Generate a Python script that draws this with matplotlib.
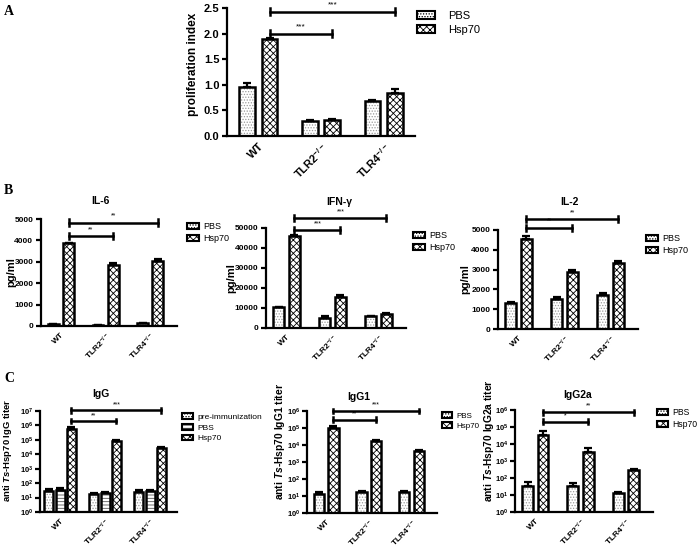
import numpy as np
import matplotlib
matplotlib.use("Agg")
import matplotlib.pyplot as plt
from matplotlib.patches import Patch
from matplotlib.ticker import LogLocator, NullLocator

W, H = 697, 549
plt.rcParams['font.family'] = ['Liberation Sans', 'DejaVu Sans']
plt.rcParams['font.weight'] = 'bold'
plt.rcParams['mathtext.fontset'] = 'custom'
plt.rcParams['mathtext.rm'] = 'Liberation Sans:bold'
plt.rcParams['mathtext.it'] = 'Liberation Sans:italic:bold'
plt.rcParams['mathtext.bf'] = 'Liberation Sans:bold'
plt.rcParams['hatch.linewidth'] = 0.6

groups = ['WT', r'TLR2$^{-/-}$', r'TLR4$^{-/-}$']

# A - proliferation
prolif_pbs = [0.95, 0.29, 0.69]
prolif_pbs_err = [0.08, 0.02, 0.01]
prolif_hsp = [1.89, 0.31, 0.84]
prolif_hsp_err = [0.03, 0.03, 0.08]

# B - cytokines (pg/ml)
il6_pbs = [90, 40, 120]
il6_pbs_err = [20, 10, 30]
il6_hsp = [3860, 2840, 3060]
il6_hsp_err = [40, 120, 60]

ifn_pbs = [10400, 5200, 5900]
ifn_pbs_err = [200, 800, 300]
ifn_hsp = [46000, 15500, 7100]
ifn_hsp_err = [300, 1200, 300]

il2_pbs = [1300, 1540, 1720]
il2_pbs_err = [80, 80, 80]
il2_hsp = [4530, 2880, 3350]
il2_hsp_err = [150, 100, 60]

# C - antibody titers
igg_pre = [30, 18, 25]
igg_pre_err = [12, 3, 6]
igg_pbs = [34, 20, 30]
igg_pbs_err = [14, 3, 6]
igg_hsp = [5.5e5, 7.8e4, 2.9e4]
igg_hsp_err = [2.5e5, 1.5e4, 5e3]

igg1_pbs = [14, 17, 17]
igg1_pbs_err = [3, 3, 3]
igg1_hsp = [1.05e5, 1.7e4, 4.4e3]
igg1_hsp_err = [2.5e4, 3e3, 1e3]

igg2a_pbs = [35, 32, 13]
igg2a_pbs_err = [25, 20, 3]
igg2a_hsp = [3.3e4, 3.2e3, 290]
igg2a_hsp_err = [2.5e4, 2.5e3, 60]

STYLES = {
    'pre': dict(hatch='......', hcol='#9a9a9a'),
    'pbs': dict(hatch='......', hcol='#9a9a9a'),
    'pbs_stripe': dict(hatch='-----', hcol='#555555'),
    'hsp': dict(hatch='xxxxx', hcol='black'),
}

fig = plt.figure(figsize=(W / 100, H / 100), dpi=100)


def ax_at(x0, y0, x1, y1):
    return fig.add_axes([x0 / W, 1 - y1 / H, (x1 - x0) / W, (y1 - y0) / H])


def draw_bars(ax, xs, vals, errs, style, width):
    st = STYLES[style]
    ax.bar(xs, vals, width, color='white', edgecolor=st['hcol'], hatch=st['hatch'],
           linewidth=0, zorder=2)
    ax.bar(xs, vals, width, color='none', edgecolor='black', linewidth=1.8, zorder=3)
    ax.errorbar(xs, vals, yerr=[np.zeros(len(vals)), errs], fmt='none', ecolor='black',
                elinewidth=1.6, capsize=3.2, capthick=1.6, zorder=4)


def bracket(ax, x0, x1, y, text, lo, hi, fs=5):
    ax.plot([x0, x1], [y, y], color='black', lw=1.8, clip_on=False, zorder=5)
    for xx in (x0, x1):
        ax.plot([xx, xx], [lo, hi], color='black', lw=1.8, clip_on=False, zorder=5)
    ax.text((x0 + x1) / 2, hi, text, ha='center', va='bottom', fontsize=fs,
            fontweight='normal', clip_on=False)


def style_axes(ax, fs, xfs, ypad=2):
    for s in ('top', 'right'):
        ax.spines[s].set_visible(False)
    for s in ('left', 'bottom'):
        ax.spines[s].set_linewidth(1.6)
    ax.tick_params(width=1.6, length=3.5, labelsize=fs, pad=ypad)
    ax.set_xticks(range(3))
    ax.set_xticklabels(groups, rotation=45, ha='right', rotation_mode='anchor',
                       fontsize=xfs, fontweight='bold')
    ax.tick_params(axis='x', length=0, pad=4)


def add_legend(x, y, labels, styles, fs, tpad=0.5, hlen=1.3):
    handles = [Patch(facecolor='white', edgecolor='black', hatch=STYLES[s]['hatch'], lw=1.5)
               for s in styles]
    fig.legend(handles, labels, loc='upper left', bbox_to_anchor=(x / W, 1 - y / H),
               frameon=False, borderpad=0, borderaxespad=0, handlelength=hlen,
               handleheight=0.7, handletextpad=tpad, labelspacing=0.35,
               prop=dict(size=fs, weight='normal'))


def title_at(x, y, text):
    fig.text(x / W, 1 - y / H, text, ha='center', va='center', fontsize=7.5,
             fontweight='bold')


def ylabel_at(ax, text, fs, xfig, yax, box):
    ax.set_ylabel(text, fontsize=fs, fontweight='bold')
    ax.yaxis.set_label_coords((xfig - box[0]) / (box[2] - box[0]), yax)


xs = np.arange(3)

# ---------- A ----------
boxA = (227, 8, 415, 136)
ax = ax_at(*boxA)
draw_bars(ax, xs - 0.18, prolif_pbs, prolif_pbs_err, 'pbs', 0.25)
draw_bars(ax, xs + 0.18, prolif_hsp, prolif_hsp_err, 'hsp', 0.25)
ax.set_xlim(-0.5, 2.5)
ax.set_ylim(0, 2.5)
ax.set_yticks([0, 0.5, 1.0, 1.5, 2.0, 2.5])
ax.set_yticklabels(['0.0', '0.5', '1.0', '1.5', '2.0', '2.5'])
style_axes(ax, 8, 8)
ylabel_at(ax, 'proliferation index', 8.5, 199, 0.56, boxA)
bracket(ax, 0.18, 1.18, 2.0, '***', 1.93, 2.07, fs=6)
bracket(ax, 0.18, 2.18, 2.43, '***', 2.36, 2.50, fs=6)
add_legend(417, 11, ['PBS', 'Hsp70'], ['pbs', 'hsp'], 8, tpad=1.2, hlen=1.6)

# ---------- B ----------
cyto = [
    ('IL-6', (41, 219, 177, 326), 5000, il6_pbs, il6_pbs_err, il6_hsp, il6_hsp_err,
     [4200, 4830], ['**', '**'], (187, 222), (100, 201), 16),
    (u'IFN-\u03b3', (266, 228, 406, 328), 50000, ifn_pbs, ifn_pbs_err, ifn_hsp, ifn_hsp_err,
     [48800, 55000], ['***', '***'], (413, 231), (339, 202), 236),
    ('IL-2', (498, 230, 638, 329), 5000, il2_pbs, il2_pbs_err, il2_hsp, il2_hsp_err,
     [5120, 5540], ['**', '**'], (646, 234), (569, 202), 470),
]
for title, box, top, pbs, pbs_e, hsp, hsp_e, by, bt, leg, tpos, ylx in cyto:
    ax = ax_at(*box)
    draw_bars(ax, xs - 0.17, pbs, pbs_e, 'pbs', 0.24)
    draw_bars(ax, xs + 0.17, hsp, hsp_e, 'hsp', 0.24)
    ax.set_xlim(-0.45, 2.6)
    ax.set_ylim(0, top)
    ax.set_yticks(np.linspace(0, top, 6))
    style_axes(ax, 6, 6)
    ylabel_at(ax, 'pg/ml', 8, ylx, 0.5, box)
    title_at(tpos[0], tpos[1], title)
    d = top * 0.03
    bracket(ax, 0.17, 1.17, by[0], bt[0], by[0] - d, by[0] + d)
    bracket(ax, 0.17, 2.17, by[1], bt[1], by[1] - d, by[1] + d)
    add_legend(leg[0], leg[1], ['PBS', 'Hsp70'], ['pbs', 'hsp'], 6.5)

# ---------- C ----------
boxG = (40, 411, 177, 512)
ax = ax_at(*boxG)
draw_bars(ax, xs - 0.25, igg_pre, igg_pre_err, 'pre', 0.2)
draw_bars(ax, xs, igg_pbs, igg_pbs_err, 'pbs_stripe', 0.2)
draw_bars(ax, xs + 0.25, igg_hsp, igg_hsp_err, 'hsp', 0.2)
ax.set_yscale('log')
ax.set_ylim(1, 1e7)
ax.set_xlim(-0.45, 2.6)
ax.yaxis.set_major_locator(LogLocator(base=10, numticks=10))
ax.yaxis.set_minor_locator(NullLocator())
style_axes(ax, 5.5, 6, ypad=1)
ylabel_at(ax, r'anti $\mathit{Ts}$-Hsp70 IgG titer', 6.8, 14, 0.61, boxG)
title_at(101, 394, 'IgG')
bracket(ax, 0.25, 1.25, 2e6, '**', 2e6 / 1.4, 2e6 * 1.4)
bracket(ax, 0.25, 2.25, 1.1e7, '***', 1.1e7 / 1.4, 1.1e7 * 1.4)
add_legend(182, 413, ['pre-immunization', 'PBS', 'Hsp70'], ['pre', 'pbs_stripe', 'hsp'], 6)

titers = [
    ('IgG1', (307, 411, 437, 513), igg1_pbs, igg1_pbs_err, igg1_hsp, igg1_hsp_err,
     [3e5, 1e6], ['**', '***'], (442, 412), (359, 397), 287, 5.8),
    ('IgG2a', (515, 410, 653, 512), igg2a_pbs, igg2a_pbs_err, igg2a_hsp, igg2a_hsp_err,
     [2e5, 7.4e5], ['*', '**'], (657, 408), (578, 395), 496, 6.2),
]
for title, box, pbs, pbs_e, hsp, hsp_e, by, bt, leg, tpos, ylx, lfs in titers:
    ax = ax_at(*box)
    draw_bars(ax, xs - 0.17, pbs, pbs_e, 'pbs', 0.24)
    draw_bars(ax, xs + 0.17, hsp, hsp_e, 'hsp', 0.24)
    ax.set_yscale('log')
    ax.set_ylim(1, 1e6)
    ax.set_xlim(-0.45, 2.6)
    ax.yaxis.set_major_locator(LogLocator(base=10, numticks=10))
    ax.yaxis.set_minor_locator(NullLocator())
    style_axes(ax, 5.5, 6, ypad=1)
    ylabel_at(ax, r'anti $\mathit{Ts}$-Hsp70 %s titer' % title, 7.4, ylx, 0.70, box)
    title_at(tpos[0], tpos[1], title)
    for yy, t, x1 in zip(by, bt, (1.17, 2.17)):
        bracket(ax, 0.17, x1, yy, t, yy / 1.4, yy * 1.4)
    add_legend(leg[0], leg[1], ['PBS', 'Hsp70'], ['pbs', 'hsp'], lfs)

# panel letters
for lab, (x, y) in zip('ABC', [(4, 5), (4, 184), (4, 372)]):
    fig.text(x / W, 1 - y / H, lab, fontsize=10, fontweight='bold', family='Liberation Serif',
             va='top')

fig.savefig('out.png', dpi=100)
